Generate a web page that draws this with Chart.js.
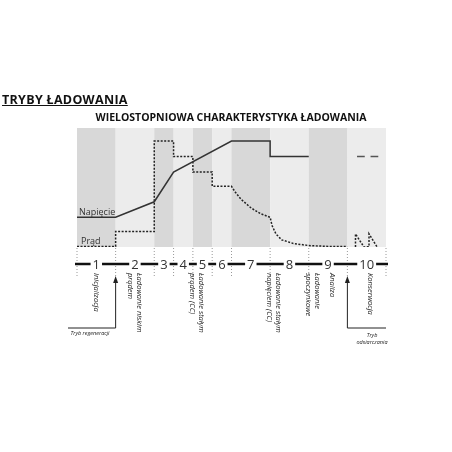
<!DOCTYPE html>
<html><head><meta charset="utf-8">
<script src="https://cdn.jsdelivr.net/npm/chart.js@4"></script>
<style>
html,body{margin:0;padding:0;background:#fff;}
#wrap{position:relative;width:452px;height:452px;}
#head{position:absolute;left:2px;top:91px;font:bold 12.5px "Open Sans",sans-serif;text-decoration:underline;color:#111;letter-spacing:0.3px;}
</style></head><body>
<div id="wrap"><div id="head">TRYBY ŁADOWANIA</div><canvas id="c" width="452" height="452"></canvas></div>
<script>
const stageEdges = [0, 1, 2, 2.5, 3, 3.5, 4, 5, 6, 7, 8];
const stageNames = ["1", "2", "3", "4", "5", "6", "7", "8", "9", "10"];
const voltX = [0, 1, 2, 2.5, 4, 5, 5, 6];
const voltY = [25, 25, 38, 63, 89, 89, 76, 76];
const floatX = [7.25, 7.45, null, 7.6, 7.8];
const floatY = [76, 76, null, 76, 76];
const currX = [0, 1, 1, 2, 2, 2.5, 2.5, 3, 3, 3.5, 3.5, 4, 4.1, 4.25, 4.5, 4.75, 5, 5.05, 5.15, 5.3, 5.6, 6, 6.5, 7];
const currY = [0.5, 0.5, 13, 13, 89, 89, 76, 76, 63, 63, 51, 51, 46, 40, 33, 28, 25, 18, 11, 6, 3, 1.2, 0.5, 0.5];
const sawX = [7.21, 7.21, 7.43, 7.56, 7.56, 7.77];
const sawY = [0, 11, 0, 0.2, 11, 0];
const stageLabels = [
  [0.5, ["Inicjalizacja"]],
  [1.5, ["Ładowanie niskim", "prądem"]],
  [3.1, ["Ładowanie stałym", "prądem (CC)"]],
  [5.1, ["Ładowanie stałym", "napięciem (CC)"]],
  [6.1, ["Ładowanie", "spoczynkowe"]],
  [6.6, ["Analiza"]],
  [7.6, ["Konserwacja"]]
];
const pts = (xs, ys) => xs.map((x, i) => (x === null ? { x: 5, y: null } : { x: x, y: ys[i] }));

const decor = {
  id: "decor",
  beforeDatasetsDraw(chart) {
    const { ctx, chartArea: a, scales: { x } } = chart;
    ctx.save();
    for (let i = 0; i < 10; i++) {
      ctx.fillStyle = i % 2 ? "rgba(230,230,230,0.75)" : "rgba(200,200,200,0.7)";
      const l = x.getPixelForValue(stageEdges[i]), r = x.getPixelForValue(stageEdges[i + 1]);
      ctx.fillRect(l, a.top, r - l, a.bottom - a.top);
    }
    ctx.restore();
  },
  afterDraw(chart) {
    const { ctx, chartArea: a, scales: { x } } = chart;
    ctx.save();
    ctx.fillStyle = "#111";
    ctx.font = "bold 10.5px 'Open Sans', sans-serif";
    ctx.textAlign = "center";
    ctx.fillText("WIELOSTOPNIOWA CHARAKTERYSTYKA ŁADOWANIA", 231, 121);
    ctx.font = "9px 'Open Sans', sans-serif";
    ctx.textAlign = "left";
    ctx.fillStyle = "#333";
    ctx.fillText("Napięcie", 79, 215);
    ctx.fillText("Prąd", 81, 244);
    // dotted stage edges
    ctx.strokeStyle = "#999";
    ctx.lineWidth = 1;
    ctx.setLineDash([1, 2]);
    stageEdges.forEach(e => {
      const px = x.getPixelForValue(e);
      ctx.beginPath(); ctx.moveTo(px, 248); ctx.lineTo(px, 276); ctx.stroke();
    });
    ctx.setLineDash([]);
    // numbered axis
    const ay = 264;
    ctx.strokeStyle = "#111";
    ctx.lineWidth = 2.5;
    ctx.font = "13px 'Open Sans', sans-serif";
    ctx.textAlign = "center";
    ctx.textBaseline = "middle";
    const start = x.getPixelForValue(0) - 2, end = x.getPixelForValue(8) + 2;
    let prev = start;
    stageNames.forEach((n, i) => {
      const cx = x.getPixelForValue((stageEdges[i] + stageEdges[i + 1]) / 2);
      const w = ctx.measureText(n).width / 2 + 2;
      ctx.beginPath(); ctx.moveTo(prev, ay); ctx.lineTo(cx - w, ay); ctx.stroke();
      ctx.fillText(n, cx, ay + 1);
      prev = cx + w;
    });
    ctx.beginPath(); ctx.moveTo(prev, ay); ctx.lineTo(end, ay); ctx.stroke();
    // rotated labels
    ctx.font = "italic 7.5px 'Open Sans', sans-serif";
    ctx.textAlign = "left";
    ctx.textBaseline = "middle";
    ctx.fillStyle = "#222";
    stageLabels.forEach(([v, lines]) => {
      const px = x.getPixelForValue(v);
      ctx.save();
      ctx.translate(px, 273);
      ctx.rotate(Math.PI / 2);
      lines.forEach((t, k) => ctx.fillText(t, 0, k * 9 - (lines.length - 1) * 4.5));
      ctx.restore();
    });
    // mode arrows
    ctx.strokeStyle = "#222";
    ctx.lineWidth = 1;
    const x1 = x.getPixelForValue(1), x7 = x.getPixelForValue(7), x8 = x.getPixelForValue(8);
    ctx.beginPath(); ctx.moveTo(68, 328); ctx.lineTo(x1, 328); ctx.lineTo(x1, 280); ctx.stroke();
    ctx.beginPath(); ctx.moveTo(x8, 328); ctx.lineTo(x7, 328); ctx.lineTo(x7, 280); ctx.stroke();
    ctx.fillStyle = "#222";
    [x1, x7].forEach(px => {
      ctx.beginPath(); ctx.moveTo(px, 276); ctx.lineTo(px - 2.5, 283); ctx.lineTo(px + 2.5, 283); ctx.fill();
    });
    ctx.font = "italic 5.5px 'Open Sans', sans-serif";
    ctx.textAlign = "center";
    ctx.fillText("Tryb regeneracji", 90, 333);
    ctx.fillText("Tryb", 372, 335);
    ctx.fillText("odsiarczania", 372, 342);
    ctx.restore();
  }
};

const lineStyle = { borderWidth: 1.5, pointRadius: 0, fill: false, tension: 0, spanGaps: false };
new Chart(document.getElementById("c"), {
  type: "line",
  data: {
    datasets: [
      { ...lineStyle, data: pts(voltX, voltY), borderColor: "#333" },
      { ...lineStyle, data: pts(floatX, floatY), borderColor: "#555" },
      { ...lineStyle, data: pts(currX, currY), borderColor: "#222", borderDash: [2, 1.5] },
      { ...lineStyle, data: pts(sawX, sawY), borderColor: "#222", borderDash: [2, 1.5] }
    ]
  },
  options: {
    responsive: false,
    animation: false,
    layout: { padding: { left: 77, right: 66, top: 128, bottom: 205 } },
    plugins: { legend: { display: false }, tooltip: { enabled: false } },
    scales: {
      x: { type: "linear", min: 0, max: 8, display: false },
      y: {
        min: 0, max: 100,
        ticks: { display: false, stepSize: 12.5 },
        grid: { color: "rgba(255,255,255,0.6)", drawTicks: false },
        border: { display: false }
      }
    }
  },
  plugins: [decor]
});
</script>
</body></html>
